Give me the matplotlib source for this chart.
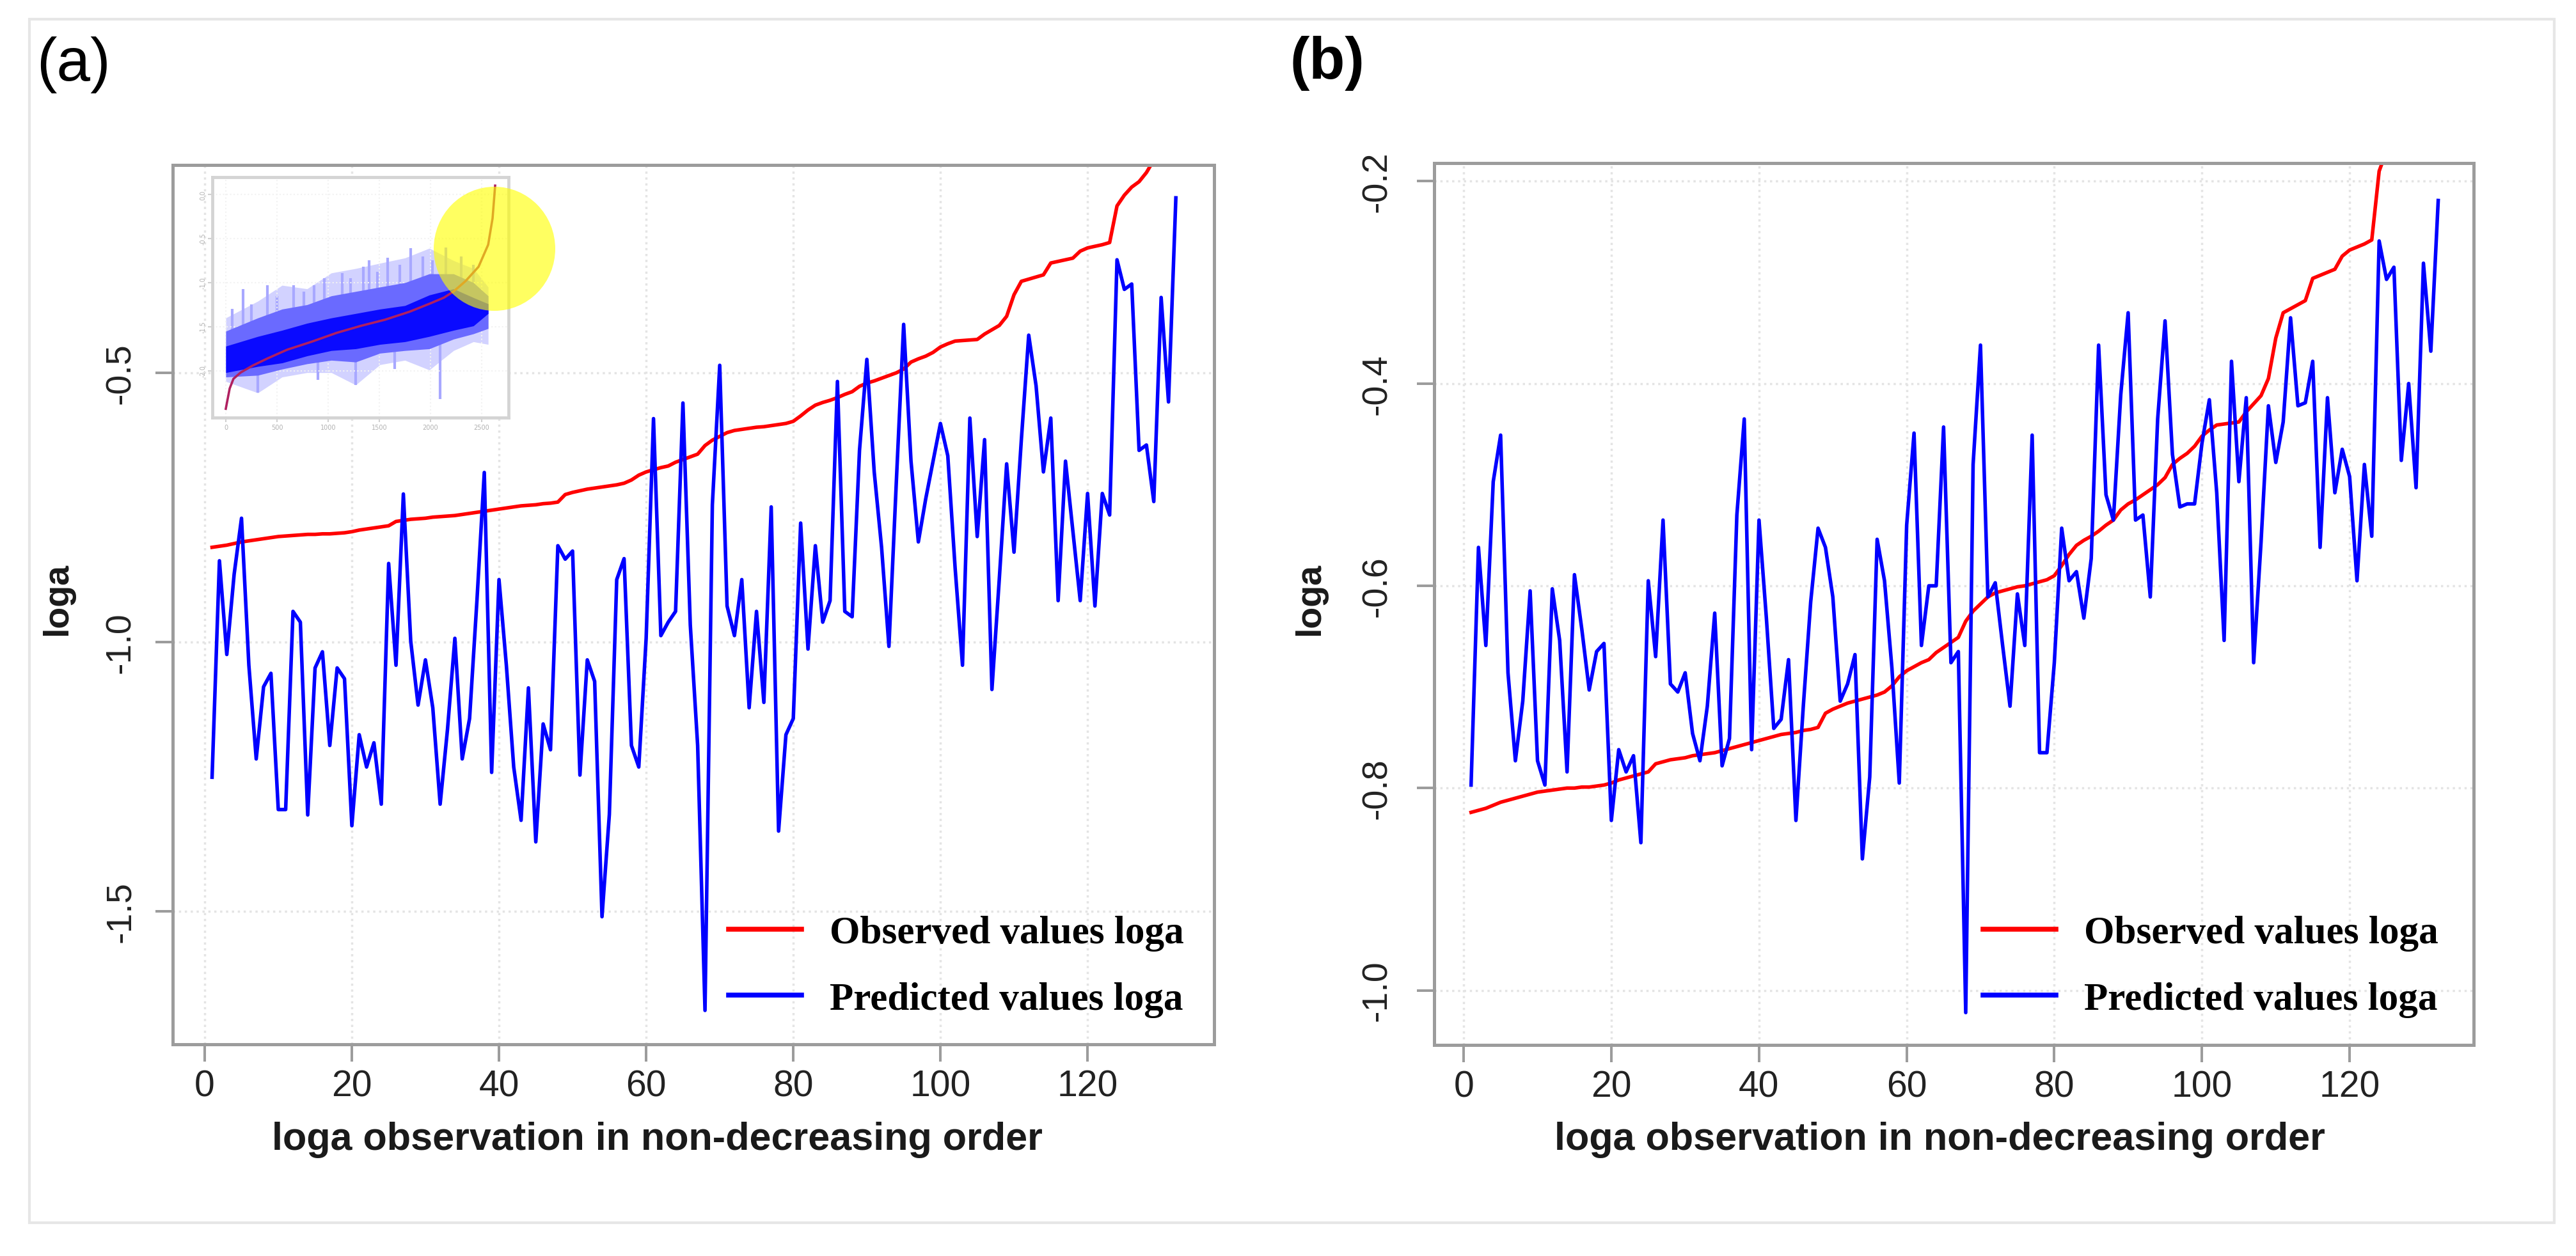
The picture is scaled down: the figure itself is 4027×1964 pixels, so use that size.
import numpy as np
import matplotlib
matplotlib.use("Agg")
from matplotlib import pyplot as plt
from matplotlib.patches import Ellipse, Rectangle

plt.rcParams['axes.unicode_minus'] = False

# observation index (sorted by observed loga)
obs_index = np.arange(1, 133)

observed_loga = [
    -0.824, -0.822, -0.820, -0.817, -0.814, -0.812, -0.810, -0.808, -0.806, -0.804,
    -0.803, -0.802, -0.801, -0.800, -0.800, -0.799, -0.799, -0.798, -0.797, -0.795,
    -0.792, -0.790, -0.788, -0.786, -0.784, -0.776, -0.774, -0.772, -0.771, -0.770,
    -0.768, -0.767, -0.766, -0.765, -0.763, -0.761, -0.759, -0.757, -0.755, -0.753,
    -0.751, -0.749, -0.747, -0.746, -0.745, -0.743, -0.742, -0.740, -0.726, -0.722,
    -0.719, -0.716, -0.714, -0.712, -0.710, -0.708, -0.705, -0.699, -0.690, -0.684,
    -0.680, -0.676, -0.673, -0.666, -0.661, -0.656, -0.651, -0.635, -0.625, -0.618,
    -0.611, -0.607, -0.605, -0.603, -0.601, -0.600, -0.598, -0.596, -0.594, -0.590,
    -0.580, -0.569, -0.560, -0.555, -0.551, -0.546, -0.540, -0.535, -0.525, -0.519,
    -0.515, -0.510, -0.505, -0.500, -0.493, -0.480, -0.474, -0.469, -0.462, -0.452,
    -0.446, -0.441, -0.440, -0.439, -0.438, -0.428, -0.420, -0.412, -0.395, -0.355,
    -0.330, -0.326, -0.322, -0.318, -0.296, -0.293, -0.290, -0.287, -0.274, -0.268,
    -0.265, -0.262, -0.258, -0.190, -0.170, -0.155, -0.145, -0.128, -0.105, -0.085,
    -0.060, -0.030]

predicted_a = [
    -1.251, -0.849, -1.023, -0.874, -0.770, -1.043, -1.217, -1.083, -1.058, -1.311,
    -1.311, -0.943, -0.963, -1.321, -1.048, -1.018, -1.192, -1.048, -1.068, -1.341,
    -1.172, -1.232, -1.187, -1.301, -0.854, -1.043, -0.725, -0.998, -1.117, -1.033,
    -1.122, -1.301, -1.162, -0.993, -1.217, -1.142, -0.923, -0.685, -1.242, -0.884,
    -1.043, -1.232, -1.331, -1.085, -1.371, -1.152, -1.200, -0.821, -0.846, -0.831,
    -1.247, -1.033, -1.073, -1.510, -1.320, -0.884, -0.845, -1.192, -1.232, -0.993,
    -0.585, -0.988, -0.963, -0.943, -0.556, -0.968, -1.192, -1.684, -0.745, -0.486,
    -0.933, -0.988, -0.884, -1.122, -0.943, -1.112, -0.749, -1.351, -1.172, -1.142,
    -0.779, -1.013, -0.821, -0.963, -0.923, -0.516, -0.943, -0.953, -0.644, -0.475,
    -0.684, -0.824, -1.008, -0.704, -0.410, -0.664, -0.814, -0.734, -0.664, -0.594,
    -0.654, -0.863, -1.043, -0.584, -0.804, -0.624, -1.088, -0.883, -0.669, -0.833,
    -0.624, -0.430, -0.524, -0.684, -0.584, -0.923, -0.664, -0.794, -0.923, -0.724,
    -0.933, -0.724, -0.764, -0.290, -0.345, -0.335, -0.644, -0.634, -0.739, -0.360,
    -0.554, -0.175]

predicted_b = [
    -0.797, -0.562, -0.659, -0.497, -0.451, -0.686, -0.773, -0.714, -0.605, -0.773,
    -0.797, -0.603, -0.654, -0.784, -0.589, -0.643, -0.703, -0.665, -0.657, -0.832,
    -0.762, -0.784, -0.768, -0.854, -0.595, -0.670, -0.535, -0.697, -0.705, -0.686,
    -0.746, -0.773, -0.719, -0.627, -0.778, -0.751, -0.530, -0.435, -0.762, -0.535,
    -0.632, -0.741, -0.732, -0.673, -0.832, -0.719, -0.616, -0.543, -0.562, -0.611,
    -0.714, -0.697, -0.668, -0.870, -0.789, -0.554, -0.595, -0.681, -0.795, -0.540,
    -0.449, -0.659, -0.600, -0.600, -0.443, -0.676, -0.665, -1.022, -0.480, -0.362,
    -0.611, -0.597, -0.659, -0.719, -0.608, -0.659, -0.451, -0.765, -0.765, -0.676,
    -0.543, -0.595, -0.586, -0.632, -0.573, -0.362, -0.510, -0.535, -0.411, -0.330,
    -0.535, -0.530, -0.611, -0.435, -0.338, -0.470, -0.522, -0.519, -0.519, -0.459,
    -0.416, -0.508, -0.654, -0.378, -0.497, -0.414, -0.676, -0.557, -0.422, -0.478,
    -0.438, -0.335, -0.422, -0.419, -0.378, -0.562, -0.414, -0.508, -0.465, -0.492,
    -0.595, -0.480, -0.551, -0.259, -0.297, -0.285, -0.476, -0.400, -0.503, -0.281,
    -0.368, -0.219]

x_ticks = [0, 20, 40, 60, 80, 100, 120]
y_ticks_a = [-1.5, -1.0, -0.5]
y_ticks_b = [-1.0, -0.8, -0.6, -0.4, -0.2]

# inset (thumbnail of the full data set)
inset_red_x = [0, 38, 75, 144, 263, 406, 600, 838, 1081, 1319, 1556, 1794, 1988,
               2131, 2225, 2344, 2469, 2563, 2606, 2631]
inset_red_y = [-2.43, -2.20, -2.09, -2.02, -1.94, -1.86, -1.76, -1.67, -1.57, -1.49,
               -1.42, -1.33, -1.24, -1.17, -1.10, -0.98, -0.82, -0.57, -0.27, 0.10]
band_x = [0, 313, 550, 794, 1031, 1269, 1506, 1750, 1988, 2225, 2419, 2563]
band_light_top = [-1.40, -1.21, -1.03, -1.07, -0.89, -0.84, -0.78, -0.72, -0.61, -0.75, -0.84, -1.05]
band_mid_top = [-1.55, -1.40, -1.30, -1.25, -1.15, -1.10, -1.05, -1.00, -0.90, -0.90, -1.00, -1.15]
band_dark_top = [-1.72, -1.61, -1.54, -1.46, -1.40, -1.35, -1.30, -1.26, -1.14, -1.07, -1.17, -1.24]
band_dark_bot = [-2.02, -1.95, -1.91, -1.83, -1.77, -1.75, -1.70, -1.67, -1.61, -1.54, -1.49, -1.35]
band_mid_bot = [-2.07, -2.05, -1.98, -1.92, -1.88, -1.90, -1.80, -1.77, -1.75, -1.64, -1.58, -1.52]
band_light_bot = [-2.12, -2.25, -2.07, -2.02, -2.02, -2.16, -1.93, -1.88, -1.99, -1.77, -1.67, -1.70]
spike_x = [60, 169, 250, 406, 500, 663, 760, 863, 960, 1138, 1220, 1344, 1400, 1480,
           1581, 1700, 1806, 1925, 2020, 2150, 2300, 2420, 2094, 1269, 313, 900, 1650]
spike_from = [-1.70, -1.60, -1.58, -1.55, -1.52, -1.50, -1.48, -1.45, -1.42, -1.40, -1.38,
              -1.35, -1.33, -1.31, -1.30, -1.28, -1.25, -1.20, -1.15, -1.10, -1.12, -1.20,
              -1.60, -1.75, -1.95, -1.85, -1.70]
spike_to = [-1.30, -1.07, -1.25, -1.03, -1.15, -1.03, -1.10, -1.03, -0.95, -0.89, -0.95,
            -0.82, -0.75, -0.88, -0.72, -0.80, -0.61, -0.70, -0.75, -0.60, -0.70, -0.80,
            -2.32, -2.16, -2.25, -2.10, -1.98]
inset_x_ticks = [0, 500, 1000, 1500, 2000, 2500]
inset_y_ticks = [-2.0, -1.5, -1.0, -0.5, 0.0]

W, H = 4027, 1965
fig = plt.figure(figsize=(W / 100, H / 100), dpi=100)


def px_box(left, top, right, bottom):
    return [left / W, 1 - bottom / H, (right - left) / W, (bottom - top) / H]


frame_col = '#9c9c9c'
tick_font = 'Liberation Sans'


def style_axes(ax, yticks, ylabel_pad):
    for s in ax.spines.values():
        s.set_color(frame_col)
        s.set_linewidth(3.6)
    ax.set_xticks(x_ticks)
    ax.set_yticks(yticks)
    ax.set_xticklabels([str(t) for t in x_ticks], fontsize=41, family=tick_font, color='#222222')
    ax.set_yticklabels(['%.1f' % t for t in yticks], fontsize=40, family=tick_font,
                       color='#222222', rotation=90, va='center')
    ax.tick_params(axis='both', direction='out', length=19.5, width=2.9, color=frame_col)
    ax.tick_params(axis='x', pad=8)
    ax.tick_params(axis='y', pad=ylabel_pad)
    ax.grid(True, color='#e4e4e4', linestyle=':', linewidth=2.5)
    ax.set_axisbelow(True)


ax_a = fig.add_axes(px_box(270, 259, 1898, 1634))
ax_b = fig.add_axes(px_box(2242, 256, 3867, 1635))

for ax, pred, ylim, yt, pad in [(ax_a, predicted_a, (-1.747, -0.114), y_ticks_a, 20),
                                (ax_b, predicted_b, (-1.054, -0.182), y_ticks_b, 26)]:
    ax.plot(obs_index, observed_loga, color='#ff0000', linewidth=4.0, label='Observed values loga',
            solid_joinstyle='round')
    ax.plot(obs_index, pred, color='#0000ff', linewidth=4.0, label='Predicted values loga',
            solid_joinstyle='round')
    ax.set_ylim(*ylim)
    style_axes(ax, yt, pad)

ax_a.set_xlim(-4.35, 137.2)
ax_b.set_xlim(-4.0, 136.8)

for ax, xa in [(ax_a, 1139), (ax_b, 3100)]:
    leg = ax.legend(loc='upper left', bbox_to_anchor=(xa / W, 1 - 1432 / H),
                    bbox_transform=fig.transFigure, frameon=False, borderpad=0,
                    borderaxespad=0, handlelength=1.87, handletextpad=0.72, labelspacing=0.78,
                    prop={'family': 'Liberation Serif', 'weight': 'bold', 'size': 44})
    for line in leg.get_lines():
        line.set_linewidth(5.5)

# axis titles
fig.text(1027 / W, 1 - 1783 / H, 'loga observation in non-decreasing order', ha='center',
         va='center', fontsize=44, fontweight='bold', family=tick_font, color='#1a1a1a')
fig.text(3032 / W, 1 - 1783 / H, 'loga observation in non-decreasing order', ha='center',
         va='center', fontsize=44, fontweight='bold', family=tick_font, color='#1a1a1a')
fig.text(90 / W, 1 - 937 / H, 'loga', ha='center', va='center', rotation=90, fontsize=40,
         fontweight='bold', family=tick_font, color='#1a1a1a')
fig.text(2048 / W, 1 - 937 / H, 'loga', ha='center', va='center', rotation=90, fontsize=40,
         fontweight='bold', family=tick_font, color='#1a1a1a')

# panel letters
fig.text(57 / W, 1 - 101 / H, '(a)', ha='left', va='center', fontsize=68, family=tick_font)
fig.text(2016 / W, 1 - 99 / H, '(b)', ha='left', va='center', fontsize=66, fontweight='bold',
         family=tick_font)

# inset thumbnail in panel (a)
ax_in = fig.add_axes(px_box(332, 278, 795, 654))
ax_in.fill_between(band_x, band_light_bot, band_light_top, color='#d2d2ff', linewidth=0, zorder=1)
ax_in.vlines(spike_x, spike_from, spike_to, color='#a8a8ff', linewidth=3, zorder=1)
ax_in.fill_between(band_x, band_mid_bot, band_mid_top, color='#6a6aff', linewidth=0, zorder=2)
ax_in.fill_between(band_x, band_dark_bot, band_dark_top, color='#0a0aff', linewidth=0, zorder=2)
ax_in.plot(inset_red_x, inset_red_y, color='#b02060', linewidth=2.6, zorder=3)
ax_in.set_xlim(-131, 2762)
ax_in.set_ylim(-2.53, 0.196)
ax_in.set_xticks(inset_x_ticks)
ax_in.set_yticks(inset_y_ticks)
ax_in.set_xticklabels([str(t) for t in inset_x_ticks], fontsize=7, color='#b0b0b0')
ax_in.set_yticklabels(['%.1f' % t for t in inset_y_ticks], fontsize=7, color='#b0b0b0',
                      rotation=90, va='center')
ax_in.tick_params(length=5, width=1.5, color='#d0d0d0', pad=2)
ax_in.grid(True, color='#f2f2f2', linestyle=':', linewidth=1.5)
for s in ax_in.spines.values():
    s.set_color('#d4d4d4')
    s.set_linewidth(3.5)

# yellow highlight over the upper tail
fig.add_artist(Ellipse((773 / W, 1 - 390 / H), 2 * 95 / W, 2 * 97 / H,
                       transform=fig.transFigure, facecolor='#ffff00', alpha=0.62,
                       edgecolor='none', zorder=10))

# outer frame
fig.add_artist(Rectangle((46 / W, 1 - 1913 / H), (3993 - 46) / W, (1913 - 31) / H,
                         transform=fig.transFigure, fill=False, edgecolor='#e6e6e6',
                         linewidth=3))

fig.savefig('out.png', dpi=100, facecolor='white')
